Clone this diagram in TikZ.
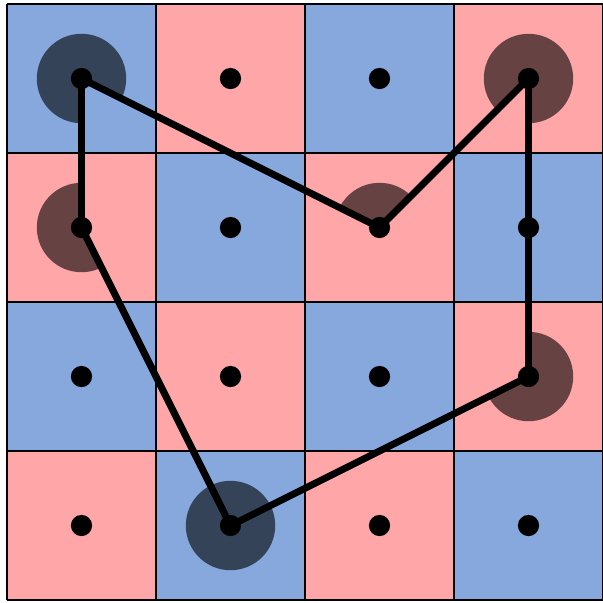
\documentclass[tikz,border=0pt]{standalone}
\definecolor{cellblue}{RGB}{134,168,221}
\definecolor{cellpink}{RGB}{255,166,169}
\begin{document}
\begin{tikzpicture}[x=4cm, y=4cm]
    \tikzset{
        gridline/.style={line width=2.2pt, black},
        visit/.style={fill=black, fill opacity=0.6},
        dot/.style={circle, fill=black, inner sep=0pt, minimum size=0.57cm},
        tour/.style={line width=5.3pt, line join=round, black}
    }
    \useasboundingbox (-0.047,-0.02) rectangle (4.0,4.027);

        % cell centres
        \foreach \c in {0,...,3}
            \foreach \r in {0,...,3}
                \coordinate (p-\c-\r) at (\c+0.5, 3.5-\r);

        % checkerboard
        \foreach \c in {0,...,3}
            \foreach \r in {0,...,3} {
                \pgfmathtruncatemacro\parity{mod(\c+\r,2)}
                \ifnum\parity=0 \def\cellcol{cellblue}\else\def\cellcol{cellpink}\fi
                \fill[\cellcol] (\c,3-\r) rectangle ++(1,1);
            }

        % visited marks
        \foreach \c/\r in {0/0, 0/1, 3/2, 3/0, 2/1}
            \fill[visit] (p-\c-\r) circle (0.3);

        % inside of the tour covers the marks again
        \begin{scope}
            \clip (p-0-0) -- (p-0-1) -- (p-1-3) -- (p-3-2) -- (p-3-0) -- (p-2-1) -- cycle;
            \foreach \c in {0,...,3}
                \foreach \r in {0,...,3} {
                    \pgfmathtruncatemacro\parity{mod(\c+\r,2)}
                    \ifnum\parity=0 \def\cellcol{cellblue}\else\def\cellcol{cellpink}\fi
                    \fill[\cellcol] (\c,3-\r) rectangle ++(1,1);
                }
        \end{scope}
        \fill[visit] (p-1-3) circle (0.3);

        \draw[gridline] (0,0) grid[step=1] (4,4);

        \draw[tour] (p-0-0) -- (p-0-1) -- (p-1-3) -- (p-3-2) -- (p-3-0) -- (p-2-1) -- cycle;

        \foreach \c in {0,...,3}
            \foreach \r in {0,...,3}
                \node[dot] (d-\c-\r) at (p-\c-\r) {};

    \end{tikzpicture}
\end{document}
